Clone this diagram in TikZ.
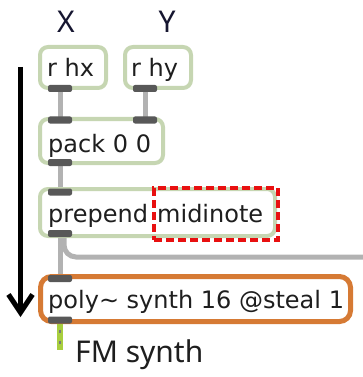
\documentclass[tikz,border=0pt]{standalone}
\usepackage{fontspec}
\usetikzlibrary{arrows.meta,backgrounds}
\newfontfamily\objfont{DejaVu Sans}
\newfontfamily\labelfont{Noto Sans}
\definecolor{objgreen}{RGB}{198,214,178}
\definecolor{polyorange}{RGB}{214,122,52}
\definecolor{portgray}{RGB}{88,88,88}
\definecolor{cordgray}{RGB}{178,178,178}
\definecolor{sigcord}{RGB}{168,206,62}
\definecolor{textdark}{RGB}{30,30,30}
\definecolor{labeldark}{RGB}{22,22,48}
\definecolor{markred}{RGB}{232,16,16}
\tikzset{
  obj/.style={draw=objgreen, line width=4pt, rounded corners=8pt, fill=white, inner sep=0pt},
  polyobj/.style={obj, draw=polyorange, line width=5pt, rounded corners=11pt},
  port/.style={fill=portgray, rounded corners=2pt, minimum width=24pt, minimum height=7pt, inner sep=0pt},
  cord/.style={draw=cordgray, line width=5pt},
  boxtext/.style={anchor=base west, inner sep=0pt, text=textdark,
    font=\objfont\fontsize{24}{28}\selectfont},
  axislabel/.style={anchor=base, inner sep=0pt, text=labeldark,
    font=\labelfont\fontsize{30}{34}\selectfont},
  highlight/.style={draw=markred, line width=4pt, dash pattern=on 8pt off 4pt, inner sep=0pt},
}
\begin{document}
\begin{tikzpicture}[x=1pt,y=-1pt]
\useasboundingbox (0,0) rectangle (363,377);

% axis labels
\node[axislabel] (labx) at (66,33) {X};
\node[axislabel] (laby) at (167,33) {Y};

% Max objects
\node[obj, minimum width=66pt, minimum height=41pt] (rhx) at (73,67.5) {};
\node[obj, minimum width=66pt, minimum height=41pt] (rhy) at (158,67.5) {};
\node[obj, minimum width=123pt, minimum height=44pt] (pack) at (101.5,141) {};
\node[obj, minimum width=235pt, minimum height=47pt] (prepend) at (157.5,212.5) {};
\node[polyobj, minimum width=310pt, minimum height=45pt] (poly) at (195.5,299) {};

% object texts
\node[boxtext] (trhx) at (47,77) {r hx};
\node[boxtext] (trhy) at (131,77) {r hy};
\node[boxtext] (tpack) at (48,152) {pack 0 0};
\node[boxtext] (tprep) at (48,222) {prepend};
\node[boxtext] (tmidi) at (157,222) {midinote};
\node[boxtext] (tpoly) at (48,308) {poly\char`\~{} synth 16 @steal 1};

% highlighted argument
\node[highlight, minimum width=124pt, minimum height=52pt] (mark) at (216,214) {};

% inlets and outlets
\node[port] (rhxo) at (60,88.5) {};
\node[port] (rhyo) at (145,88.5) {};
\node[port] (packi1) at (60,120) {};
\node[port] (packi2) at (145,120) {};
\node[port] (packo) at (60,162.5) {};
\node[port] (prepi) at (60,192) {};
\node[port] (prepo) at (60,233.5) {};
\node[port] (polyi) at (60,278.5) {};
\node[port] (polyo) at (60,320) {};

\coordinate (offright) at (363,257);
\coordinate (sigend) at (60,350);

% patch cords
\begin{pgfonlayer}{background}
\draw[cord] (rhxo.center) -- (packi1.center);
\draw[cord] (rhyo.center) -- (packi2.center);
\draw[cord] (packo.center) -- (prepi.center);
\draw[cord] (prepo.center) -- (polyi.center);
\draw[cord, rounded corners=12pt] ([xshift=4pt]prepo.center) |- (offright);
\end{pgfonlayer}

% signal cord
\draw[draw=sigcord, line width=6pt] (polyo.south) -- (sigend);
\draw[draw=portgray!80, line width=2pt, dash pattern=on 3pt off 8pt] ([yshift=-6pt]polyo.south) -- (sigend);

\node[anchor=base west, inner sep=0pt, text=textdark,
  font=\labelfont\fontsize{30}{34}\selectfont] (fm) at (75,362) {FM synth};

% flow arrow
\coordinate (flowtop) at (20.5,67);
\coordinate (flowtip) at (20.5,317);
\draw[line width=5pt, -{Straight Barb[length=18pt, width=24pt]}] (flowtop) -- (flowtip);
\end{tikzpicture}
\end{document}
